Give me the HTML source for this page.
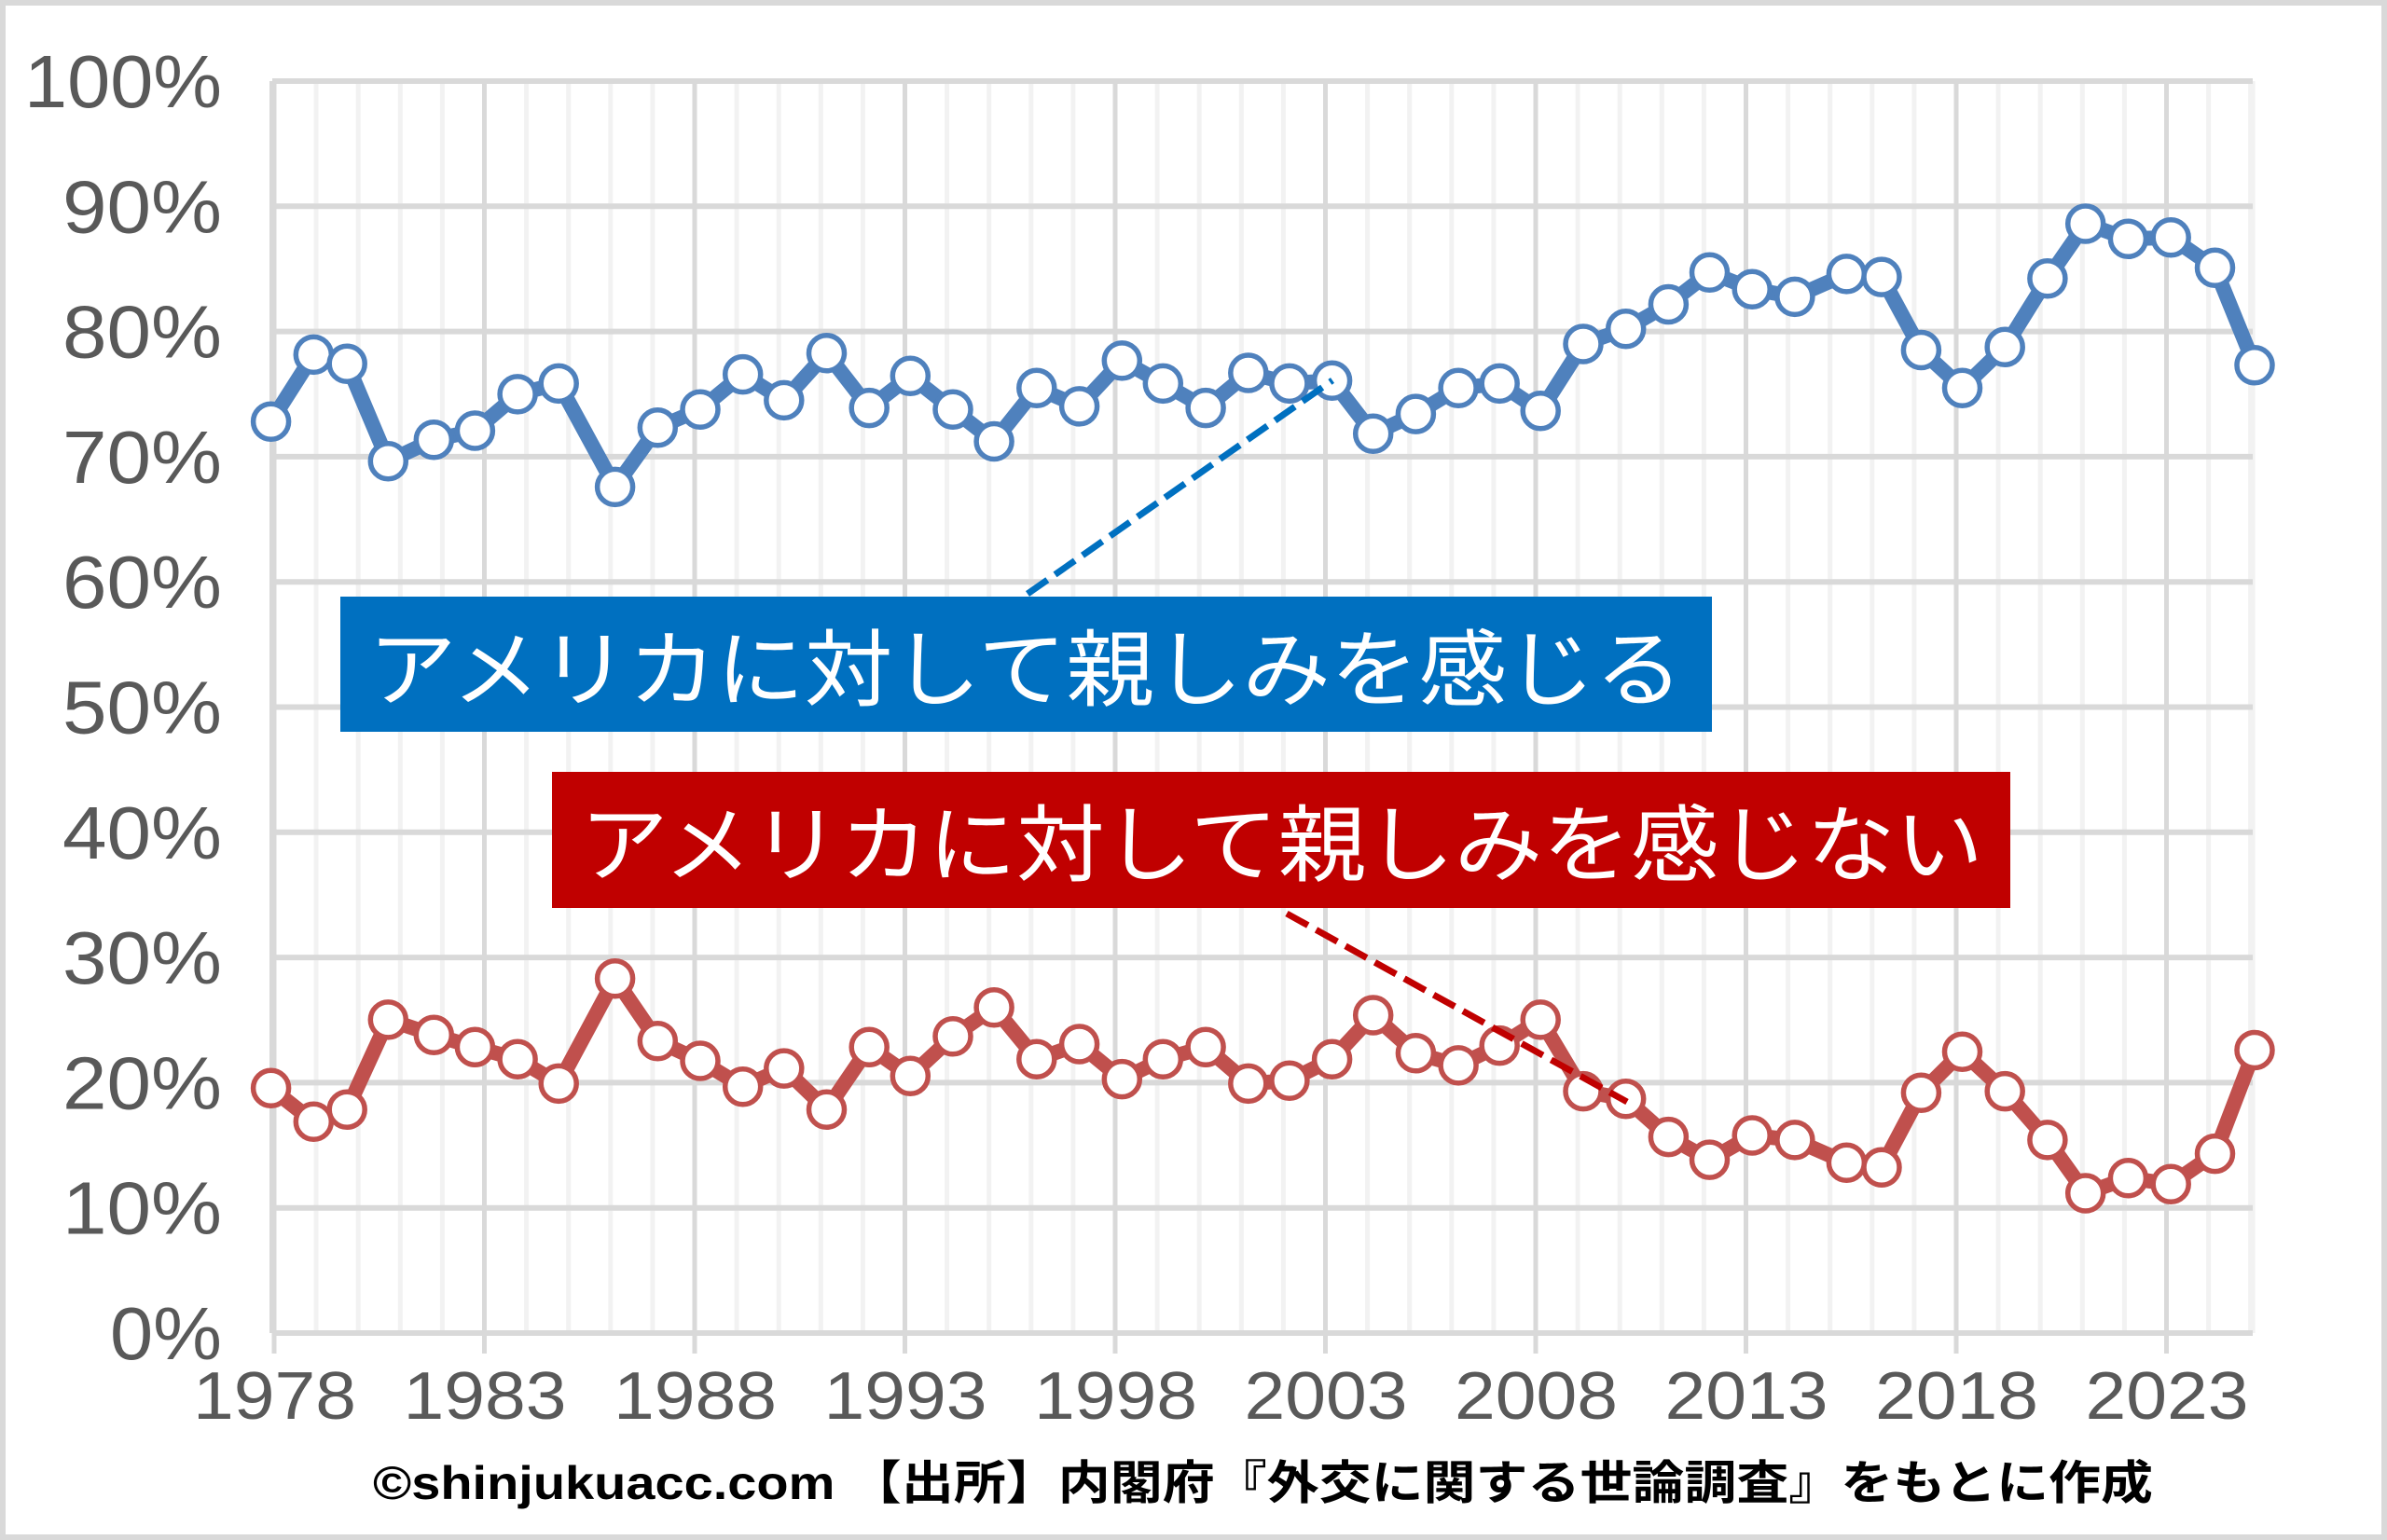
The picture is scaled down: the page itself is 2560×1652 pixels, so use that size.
<!DOCTYPE html>
<html><head><meta charset="utf-8"><style>
html,body{margin:0;padding:0;background:#fff;}
svg{display:block;}
</style></head><body>
<svg id="s" width="2560" height="1652" xmlns="http://www.w3.org/2000/svg"></svg>
<script>
const s=document.getElementById('s');
const K=2560/1568;
const L=292,R=2416,T=87,B=1430;
const yv=v=>B-(B-T)*v/100;
const xy=y=>294+(y-1978)*45.1;
let h='';
h+='<rect x="3" y="3" width="2554" height="1646" fill="#fff" stroke="#d9d9d9" stroke-width="6"/>';
for(let y=1978;y<=2025;y++){const x=xy(y);if((y-1978)%5)h+=`<line x1="${x}" y1="${T}" x2="${x}" y2="${B}" stroke="#f2f2f2" stroke-width="5"/>`;}
for(let y=1978;y<=2025;y+=5){const x=xy(y);h+=`<line x1="${x}" y1="${T}" x2="${x}" y2="${B+22}" stroke="#d9d9d9" stroke-width="5"/>`;}
h+=`<line x1="${R}" y1="${T}" x2="${R}" y2="${B}" stroke="#f2f2f2" stroke-width="5"/>`;
for(let i=0;i<=10;i++){const y=yv(i*10);h+=`<line x1="${L}" y1="${y}" x2="${R}" y2="${y}" stroke="#d9d9d9" stroke-width="6"/>`;
const w=i==10?212:(i==0?120:171);
h+=`<text x="${238-w}" y="${y+28}" textLength="${w}" lengthAdjust="spacingAndGlyphs" font-family="Liberation Sans, sans-serif" font-size="80" fill="#595959">${i*10}%</text>`;}
h+=`<line x1="${L}" y1="${T}" x2="${L}" y2="${B}" stroke="#d9d9d9" stroke-width="6"/>`;
for(let y=1978;y<=2023;y+=5){h+=`<text x="${xy(y)-87}" y="1522" textLength="175" lengthAdjust="spacingAndGlyphs" font-family="Liberation Sans, sans-serif" font-size="72" fill="#595959">${y}</text>`;}
const xs=[178,206,228,255,285,312,340,367,404,432,460,488,515,543,571,598,626,653,681,709,737,764,792,820,847,875,902,930,958,985,1012,1040,1068,1096,1123,1151,1179,1213,1236,1262,1289,1317,1345,1370,1398,1426,1455,1481];
const by=[277,233,239,303,289,283,259,252,320,281,269,246,263,232,268,247,269,290,255,267,237,252,268,245,252,250,285,272,255,252,270,226,216,200,179,190,195,180,182,230,255,228,183,147,157,156,176,240];
const ry=[715,737,729,670,680,688,696,712,643,684,697,714,702,729,688,707,681,662,696,686,709,696,688,712,710,696,667,692,700,687,670,717,722,747,762,746,749,764,767,718,691,717,749,784,774,778,758,690];
function series(ys,c){let p=xs.map((x,i)=>(x*K).toFixed(1)+','+(ys[i]*K).toFixed(1)).join(' ');
let o=`<polyline points="${p}" fill="none" stroke="${c}" stroke-width="16" stroke-linejoin="round"/>`;
xs.forEach((x,i)=>{o+=`<circle cx="${(x*K).toFixed(1)}" cy="${(ys[i]*K).toFixed(1)}" r="19" fill="#fff" stroke="${c}" stroke-width="5.5"/>`;});return o;}
h+=series(by,'#4f81bd');h+=series(ry,'#c0504d');
h+='<line x1="1102" y1="637" x2="1429" y2="408" stroke="#0070c0" stroke-width="7" stroke-dasharray="26,10"/>';
h+='<line x1="1380" y1="980" x2="1745" y2="1182" stroke="#c00000" stroke-width="7" stroke-dasharray="26,10"/>';
h+='<rect x="365" y="640" width="1471" height="145" fill="#0070c0"/>';
h+='<text x="395" y="750" font-family="Noto Sans CJK JP, sans-serif" font-size="90" fill="#fff" textLength="1410" lengthAdjust="spacingAndGlyphs">アメリカに対して親しみを感じる</text>';
h+='<rect x="592" y="828" width="1564" height="146" fill="#c00000"/>';
h+='<text x="622" y="938" font-family="Noto Sans CJK JP, sans-serif" font-size="90" fill="#fff" textLength="1505" lengthAdjust="spacingAndGlyphs">アメリカに対して親しみを感じない</text>';
h+='<text x="400" y="1608" font-family="Liberation Sans, Noto Sans CJK JP, sans-serif" font-size="50" font-weight="bold" fill="#000" textLength="1909" lengthAdjust="spacingAndGlyphs">©shinjukuacc.com 【出所】内閣府『外交に関する世論調査』をもとに作成</text>';
s.innerHTML=h;
</script>
</body></html>
